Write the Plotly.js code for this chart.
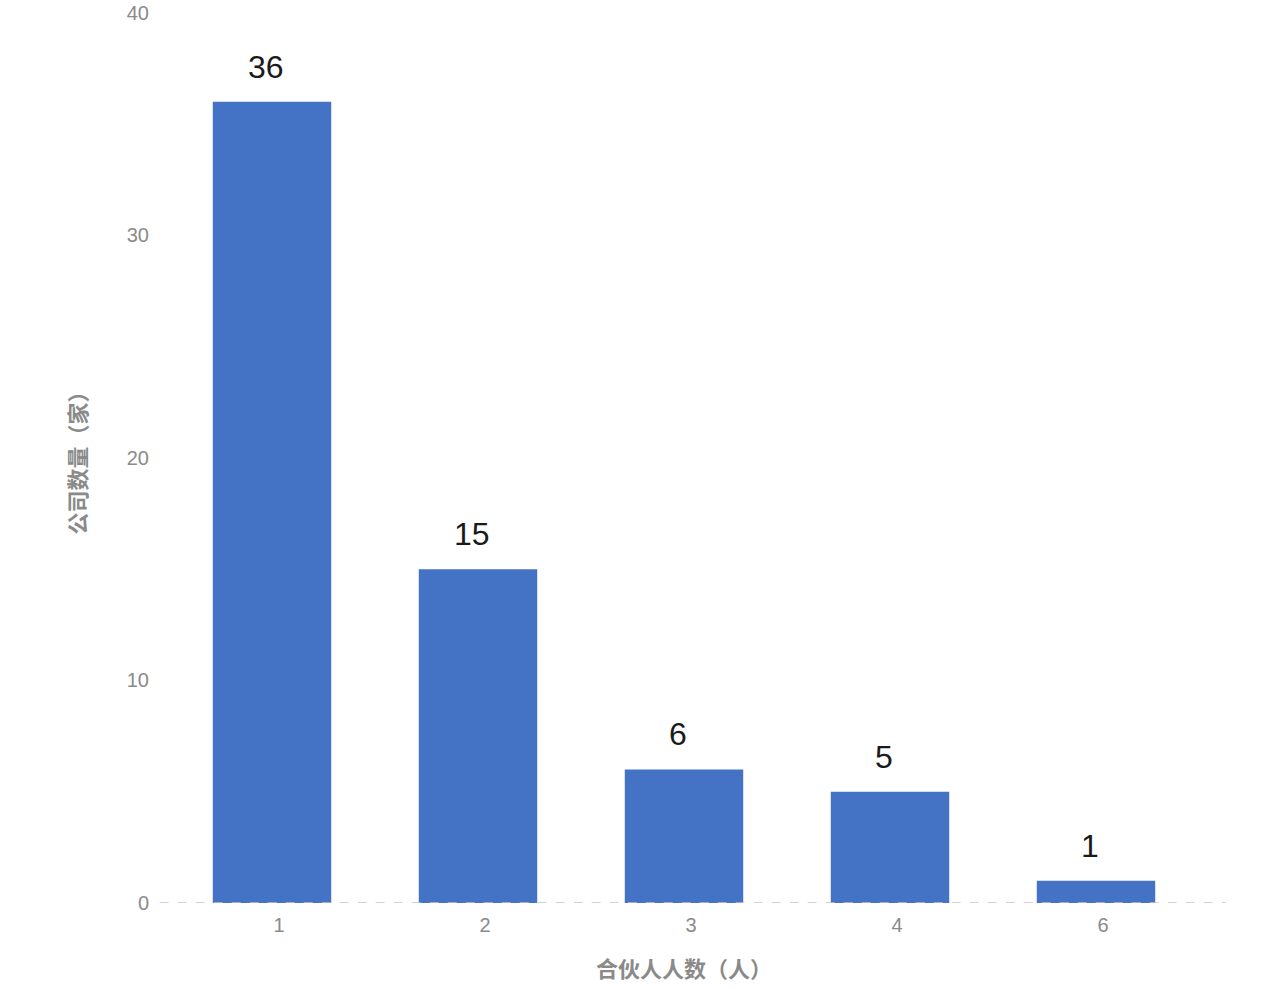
<!DOCTYPE html>
<html><head><meta charset="utf-8">
<script src="https://cdn.plot.ly/plotly-3.0.1.min.js"></script>
<style>html,body{margin:0;padding:0;background:#fff;}</style>
</head><body>
<div id="chart" style="width:1280px;height:989px;"></div>
<script>
const categories = ['1', '2', '3', '4', '6'];
const companyCounts = [36, 15, 6, 5, 1];
const yTicks = [0, 10, 20, 30, 40];
const xTitle = '合伙人人数（人）';
const yTitle = '公司数量（家）';

const cjk = '"Noto Sans CJK SC", sans-serif';
const latin = '"Liberation Sans", Arial, sans-serif';

const trace = {
  type: 'bar',
  x: categories,
  y: companyCounts,
  marker: {color: '#4472C4'},
  hoverinfo: 'x+y'
};

const annotations = categories.map((c, i) => ({
  x: i, y: companyCounts[i], xref: 'x', yref: 'y',
  text: String(companyCounts[i]),
  showarrow: false, yanchor: 'bottom', yshift: 15, xshift: -6,
  font: {family: latin, size: 32, color: '#1a1a1a'}
}));

const layout = {
  width: 1280, height: 989,
  margin: {l: 169, r: 81, t: 12, b: 86},
  paper_bgcolor: '#fff', plot_bgcolor: '#fff',
  showlegend: false,
  bargap: 0.425,
  xaxis: {
    type: 'category',
    range: [-0.5, categories.length - 0.5],
    showgrid: false, zeroline: false, showline: false,
    ticks: 'outside', ticklen: 4, tickcolor: 'rgba(0,0,0,0)',
    ticklabelshift: 7,
    tickfont: {family: latin, size: 20, color: '#8a8a8a'},
    title: {text: xTitle, font: {family: cjk, size: 22, color: '#8a8a8a', weight: 'bold'}, standoff: 26}
  },
  yaxis: {
    range: [0, 40.03], tickvals: yTicks,
    showgrid: false, zeroline: false, showline: false,
    ticks: 'outside', ticklen: 15, tickcolor: 'rgba(0,0,0,0)',
    tickfont: {family: latin, size: 20, color: '#8a8a8a'},
    title: {text: yTitle, font: {family: cjk, size: 22, color: '#8a8a8a', weight: 'bold'}, standoff: 34}
  },
  shapes: [{
    type: 'line', xref: 'paper', yref: 'y',
    x0: -0.009, x1: 1.026, y0: 0, y1: 0,
    line: {color: '#cbbfca', width: 1.5, dash: 'dash'},
    layer: 'above'
  }],
  annotations: annotations
};

Plotly.newPlot('chart', [trace], layout, {displayModeBar: false, responsive: false});
</script>
</body></html>
